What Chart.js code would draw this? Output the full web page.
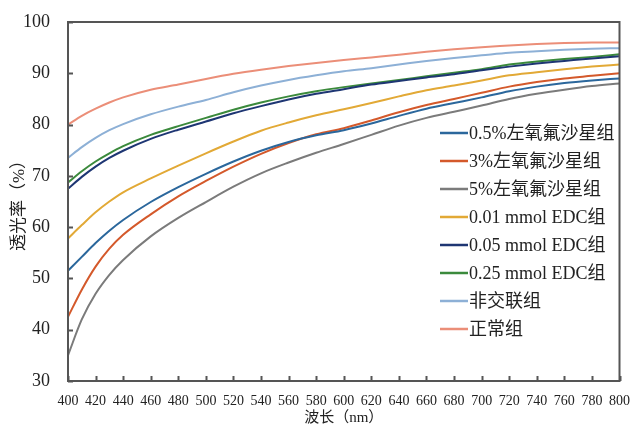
<!DOCTYPE html>
<html>
<head>
<meta charset="utf-8">
<script src="https://cdn.jsdelivr.net/npm/chart.js@4"></script>
<style>
  html, body { margin: 0; padding: 0; background: #fff; }
  #wrap { width: 634px; height: 427px; }
</style>
</head>
<body>
<div id="wrap"><canvas id="chart"></canvas></div>
<script>
// Wavelengths (nm)
const wavelengths = [400, 410, 420, 430, 440, 460, 480, 500, 520, 540, 560, 580, 600, 620, 640, 660, 680, 700, 720, 740, 760, 780, 800];

// Transmittance (%) per group
const levo05 = [51.5, 54.2, 56.9, 59.3, 61.4, 64.9, 67.8, 70.4, 72.8, 74.9, 76.6, 77.9, 78.9, 80.2, 81.7, 83.1, 84.2, 85.3, 86.5, 87.4, 88.1, 88.6, 89.0];
const levo3 = [42.5, 47.8, 52.3, 55.8, 58.5, 62.5, 66.0, 69.0, 71.8, 74.3, 76.4, 78.1, 79.3, 80.8, 82.4, 83.8, 85.0, 86.2, 87.4, 88.3, 89.0, 89.5, 90.0];
const levo5 = [35.0, 42.0, 47.0, 50.7, 53.6, 58.2, 61.8, 64.9, 67.9, 70.5, 72.6, 74.5, 76.2, 78.0, 79.8, 81.3, 82.5, 83.7, 85.0, 86.0, 86.8, 87.5, 88.0];
const edc001 = [57.8, 60.4, 62.9, 65.0, 66.8, 69.5, 72.0, 74.4, 76.7, 78.8, 80.4, 81.8, 83.0, 84.2, 85.5, 86.7, 87.6, 88.6, 89.6, 90.2, 90.8, 91.3, 91.7];
const edc005 = [67.5, 69.8, 71.8, 73.5, 74.9, 77.2, 79.0, 80.6, 82.2, 83.6, 84.9, 86.0, 86.9, 87.8, 88.5, 89.2, 89.8, 90.6, 91.3, 91.9, 92.4, 92.9, 93.3];
const edc025 = [68.7, 70.9, 72.8, 74.4, 75.8, 78.0, 79.7, 81.3, 82.9, 84.3, 85.5, 86.5, 87.3, 88.0, 88.7, 89.4, 90.1, 90.8, 91.7, 92.3, 92.8, 93.2, 93.7];
const nonCross = [73.5, 75.6, 77.4, 78.9, 80.1, 82.0, 83.5, 84.8, 86.3, 87.6, 88.7, 89.6, 90.4, 91.0, 91.7, 92.4, 93.0, 93.5, 94.0, 94.3, 94.6, 94.8, 94.9];
const normal = [80.0, 81.7, 83.1, 84.3, 85.3, 86.8, 87.8, 88.9, 89.9, 90.7, 91.4, 92.0, 92.6, 93.1, 93.6, 94.2, 94.7, 95.1, 95.4, 95.7, 95.9, 96.0, 96.0];

const labels = ['0.5%左氧氟沙星组', '3%左氧氟沙星组', '5%左氧氟沙星组', '0.01 mmol EDC组', '0.05 mmol EDC组', '0.25 mmol EDC组', '非交联组', '正常组'];
const series = [levo05, levo3, levo5, edc001, edc005, edc025, nonCross, normal];
const colors = ['#2b679c', '#d4592b', '#7b7b7b', '#e2a936', '#1e3673', '#3b8a3c', '#8db0d6', '#eb8e78'];

const serif = '"Liberation Serif", "Noto Sans CJK SC", serif';

// frame, inward ticks and legend inside plot
const decor = {
    id: 'decor',
    afterDraw(chart) {
        const ctx = chart.ctx;
        const a = chart.chartArea;
        const x = chart.scales.x, y = chart.scales.y;
        ctx.save();
        ctx.strokeStyle = '#555';
        ctx.lineWidth = 2;
        ctx.strokeRect(a.left, a.top, a.right - a.left, a.bottom - a.top);
        ctx.beginPath();
        x.ticks.forEach(t => {
            const px = Math.round(x.getPixelForValue(t.value)) + 0.5;
            ctx.moveTo(px, a.bottom);
            ctx.lineTo(px, a.bottom - 5);
        });
        y.ticks.forEach(t => {
            const py = Math.round(y.getPixelForValue(t.value)) + 0.5;
            ctx.moveTo(a.left, py);
            ctx.lineTo(a.left + 5, py);
        });
        ctx.stroke();

        // legend
        ctx.font = '18px ' + serif;
        ctx.textBaseline = 'middle';
        ctx.fillStyle = '#222';
        labels.forEach((lab, i) => {
            const ly = 133 + i * 28;
            ctx.strokeStyle = colors[i];
            ctx.lineWidth = 2.5;
            ctx.beginPath();
            ctx.moveTo(440, ly);
            ctx.lineTo(468, ly);
            ctx.stroke();
            ctx.fillText(lab, 469, ly + 1);
        });
        ctx.restore();
    }
};

new Chart(document.getElementById('chart'), {
    type: 'line',
    data: {
        datasets: series.map((s, i) => ({
            label: labels[i],
            data: wavelengths.map((w, j) => ({ x: w, y: s[j] })),
            borderColor: colors[i],
            borderWidth: 2,
            pointRadius: 0,
            cubicInterpolationMode: 'monotone',
            fill: false
        }))
    },
    options: {
        responsive: true,
        maintainAspectRatio: false,
        animation: false,
        layout: { padding: { top: 22, right: 13, left: 0, bottom: 0 } },
        plugins: {
            legend: { display: false },
            tooltip: { enabled: false }
        },
        scales: {
            x: {
                type: 'linear',
                min: 400,
                max: 800,
                grid: { display: false },
                border: { display: false },
                ticks: {
                    stepSize: 20,
                    padding: 4,
                    maxRotation: 0,
                    autoSkip: false,
                    color: '#222',
                    font: { family: serif, size: 14 }
                },
                title: {
                    display: true,
                    text: '波长（nm）',
                    color: '#222',
                    padding: { top: 0, bottom: 0 },
                    font: { family: serif, size: 15 }
                },
                afterFit: s => { s.height = 46; }
            },
            y: {
                min: 30,
                max: 100,
                grid: { display: false },
                border: { display: false },
                ticks: {
                    stepSize: 10,
                    padding: 10,
                    color: '#222',
                    font: { family: serif, size: 18 }
                },
                title: {
                    display: true,
                    text: '透光率（%）',
                    color: '#222',
                    padding: { top: 9, bottom: 0 },
                    font: { family: serif, size: 17 }
                },
                afterFit: s => { s.width = 68; }
            }
        }
    },
    plugins: [decor]
});
</script>
</body>
</html>
